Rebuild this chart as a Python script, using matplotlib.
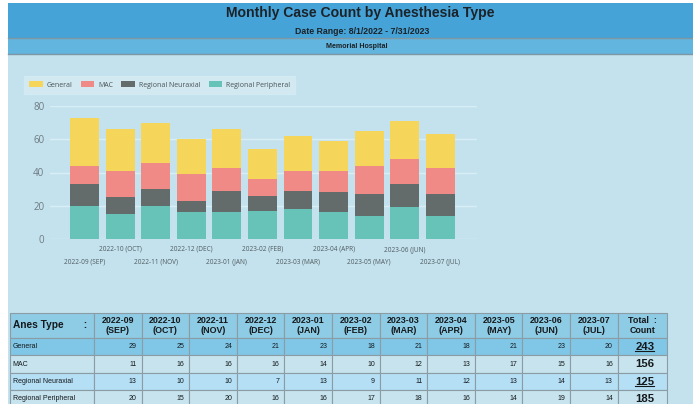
import matplotlib
matplotlib.use('Agg')
import matplotlib.pyplot as plt
import numpy as np
from matplotlib.patches import Rectangle
from matplotlib.lines import Line2D
from matplotlib.transforms import IdentityTransform

# data
months = ['2022-09 (SEP)', '2022-10 (OCT)', '2022-11 (NOV)', '2022-12 (DEC)',
          '2023-01 (JAN)', '2023-02 (FEB)', '2023-03 (MAR)', '2023-04 (APR)',
          '2023-05 (MAY)', '2023-06 (JUN)', '2023-07 (JUL)']
anes_types = ['General', 'MAC', 'Regional Neuraxial', 'Regional Peripheral']
general = [29, 25, 24, 21, 23, 18, 21, 18, 21, 23, 20]
mac = [11, 16, 16, 16, 14, 10, 12, 13, 17, 15, 16]
neuraxial = [13, 10, 10, 7, 13, 9, 11, 12, 13, 14, 13]
peripheral = [20, 15, 20, 16, 16, 17, 18, 16, 14, 19, 14]
yticks = [0, 20, 40, 60, 80]

colors = {'General': '#f5d55a', 'MAC': '#f08a86',
          'Regional Neuraxial': '#636b6b', 'Regional Peripheral': '#67c2b7'}

W, H = 693, 404
NARROW = ['Liberation Sans Narrow', 'Liberation Sans', 'DejaVu Sans']
fig = plt.figure(figsize=(W / 100, H / 100), dpi=100)
fig.patch.set_facecolor('white')


def box(x0, y0, x1, y1):
    '''
    pixel box (top-left origin) -> figure fraction rect
    '''
    return [x0 / W, 1 - y1 / H, (x1 - x0) / W, (y1 - y0) / H]


# background panels and banners
bg = fig.add_axes([0, 0, 1, 1])
bg.set_xlim(0, W)
bg.set_ylim(H, 0)
bg.axis('off')
bg.add_patch(Rectangle((8, 54), W - 8, H - 54, color='#c3e2ee', lw=0))
bg.add_patch(Rectangle((8, 3), W - 8, 35, color='#45a3d8', lw=0))
bg.add_patch(Rectangle((8, 38), W - 8, 16, color='#62b5de', lw=0))
bg.plot([8, W], [38, 38], color='#7f97a3', lw=1)
bg.plot([8, W], [54, 54], color='#7f97a3', lw=1)
bg.text(360, 13.5, 'Monthly Case Count by Anesthesia Type', ha='center', va='center',
        fontsize=10.1, fontweight='bold', family=NARROW, color='#1b2228')
bg.text(362, 31, 'Date Range: 8/1/2022 - 7/31/2023', ha='center', va='center',
        fontsize=6.3, fontweight='bold', family=NARROW, color='#1b2228')
bg.text(357, 46, 'Memorial Hospital', ha='center', va='center',
        fontsize=5.1, fontweight='bold', family=NARROW, color='#1b2228')

# stacked bar chart
ax = fig.add_axes(box(50, 106, 477, 239))
ax.set_facecolor('none')
x = np.arange(len(months))
series = [('Regional Peripheral', peripheral), ('Regional Neuraxial', neuraxial),
          ('MAC', mac), ('General', general)]
bottom = np.zeros(len(months))
handles = {}
for name, vals in series:
    handles[name] = ax.bar(x, vals, 0.81, bottom=bottom, color=colors[name], lw=0, zorder=3)
    bottom += np.array(vals)
ax.set_xlim(-0.97, 11.03)
ax.set_ylim(0, 80)
ax.set_yticks(yticks)
ax.grid(axis='y', color='#d9edf4', lw=1, zorder=0)
for s in ax.spines.values():
    s.set_visible(False)
ax.tick_params(axis='y', length=0, pad=4, labelsize=7, labelcolor='#6f7b80')
ax.set_xticks(x[0::2], [months[i] for i in x[0::2]])
ax.set_xticks(x[1::2], [months[i] for i in x[1::2]], minor=True)
ax.tick_params(axis='x', which='major', length=0, pad=14.2, labelsize=4.7, labelcolor='#505a5e')
ax.tick_params(axis='x', which='minor', length=0, pad=5, labelsize=4.7, labelcolor='#505a5e')
for lab in ax.get_yticklabels() + ax.get_xticklabels() + ax.get_xticklabels(minor=True):
    lab.set_family(['Open Sans', 'DejaVu Sans'])

leg = fig.legend([handles[n] for n in anes_types], anes_types, loc='upper left',
                 bbox_to_anchor=(24 / W, 1 - 76 / H), borderaxespad=0, ncol=4,
                 handlelength=1.95, handleheight=0.95, handletextpad=0.55,
                 columnspacing=1.2, borderpad=0.75, frameon=True, fancybox=False,
                 prop={'family': ['Open Sans', 'DejaVu Sans'], 'size': 5.0})
leg.get_frame().set_facecolor('#d6ecf4')
leg.get_frame().set_edgecolor('#d6ecf4')
for t in leg.get_texts():
    t.set_color('#4a5256')

# summary table
tax = fig.add_axes([0, 0, 1, 1])
tax.axis('off')
header = ['Anes Type       :'] + [m.replace(' ', '\n') for m in months] + ['Total  :\nCount']
rows = [general, mac, neuraxial, peripheral]
cells = [header] + [[n] + [str(v) for v in r] + [str(sum(r))] for n, r in zip(anes_types, rows)]
col_w = [84] + [47.6] * len(months) + [49]
row_h = [25, 17.3, 17.7, 17.3, 17.3]
row_bg = ['#8ecbe4', '#80c7e7', '#c6e3ee', '#b5dff5', '#c6e3ee']
top, left = 313, 10
bottom_px = top + sum(row_h)
tab = tax.table(cellText=cells, cellLoc='right',
                bbox=[left / W, 1 - bottom_px / H, sum(col_w) / W, sum(row_h) / H])
tab.auto_set_font_size(False)
last = len(col_w) - 1
for (r, c), cell in tab.get_celld().items():
    cell.set_width(col_w[c])
    cell.set_height(row_h[r])
    cell.set_facecolor(row_bg[r])
    cell.set_edgecolor('#8c9ca4')
    cell.set_linewidth(0.8)
    txt = cell.get_text()
    txt.set_family(NARROW)
    txt.set_color('#15191c')
    if r == 0:
        txt.set_fontweight('bold')
        txt.set_fontsize(6.4)
        if c == 0:
            txt.set_ha('left')
            txt.set_fontsize(7.3)
            cell.PAD = 0.04
        else:
            txt.set_ha('center')
            txt.set_multialignment('center')
    elif c == 0:
        txt.set_ha('left')
        txt.set_fontsize(5.0)
        cell.PAD = 0.03
    elif c == last:
        txt.set_family(['Liberation Sans', 'DejaVu Sans'])
        txt.set_fontweight('bold')
        txt.set_fontsize(8.2)
        cell.PAD = 0.25
    else:
        txt.set_fontsize(5.0)
        cell.PAD = 0.1

# underline the linked totals
fig.canvas.draw()
renderer = fig.canvas.get_renderer()
for r in (1, 3):
    bb = tab[r, last].get_text().get_window_extent(renderer)
    fig.add_artist(Line2D([bb.x0, bb.x1], [bb.y0 + 0.5, bb.y0 + 0.5], color='#15191c',
                          lw=0.8, transform=IdentityTransform()))

fig.savefig('out.png', dpi=100)
